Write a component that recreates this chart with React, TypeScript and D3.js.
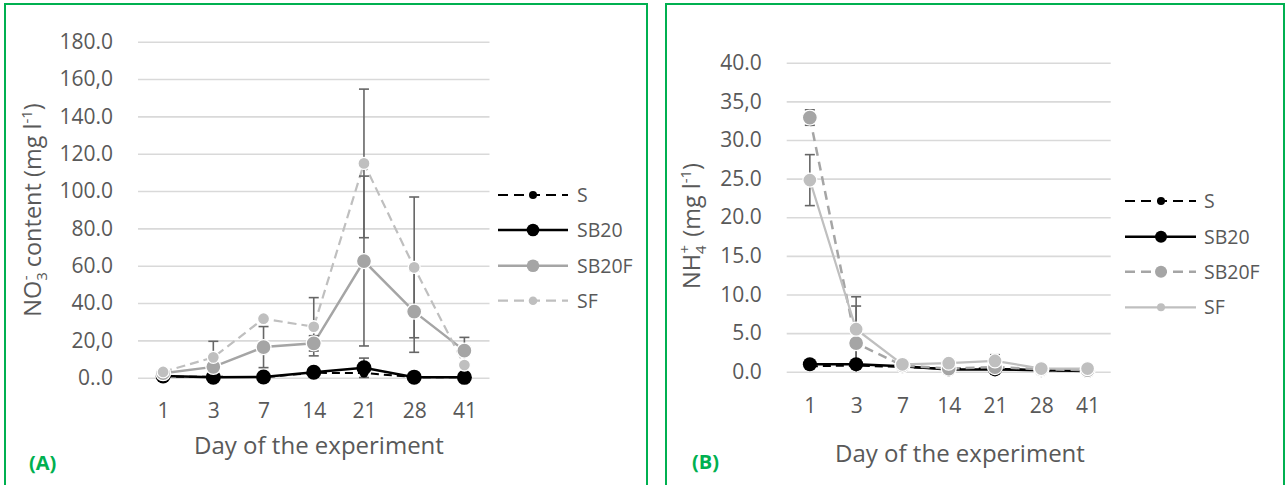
import React, { useEffect, useRef } from "react";
import * as d3 from "d3";

// categories
const days = ["1", "3", "7", "14", "21", "28", "41"];
const seriesNames = ["S", "SB20", "SB20F", "SF"];

// (A) NO3- content, mg l-1
const no3S = [0.6, 0.5, 0.3, 2.6, 2.5, 0.3, 0.3];
const no3SB20 = [0.9, 0.3, 0.4, 2.9, 5.3, 0.3, 0.2];
const no3SB20F = [2.4, 5.8, 16.4, 18.4, 62.5, 35.4, 14.5];
const no3SF = [3.1, 10.9, 31.6, 27.3, 114.8, 59.1, 6.8];
const no3ErrSB20 = [0, 0, 0, 0, 5.2, 0, 0];
const no3ErrSB20F = [0, 1, 11, 4.1, 45.5, 21.8, 7.1];
const no3ErrSF = [0, 8.6, 0, 15.6, 39.8, 37.7, 0];
const no3Ticks = [0, 20, 40, 60, 80, 100, 120, 140, 160, 180];
const no3TickLabels = ["0..0", "20,0", "40.0", "60.0", "80.0", "100.0", "120.0", "140.0", "160,0", "180.0"];

// (B) NH4+, mg l-1
const nh4S = [0.7, 0.8, 0.6, 0.4, 0.4, 0.2, 0.1];
const nh4SB20 = [0.96, 0.96, 0.7, 0.3, 0.3, 0.2, 0.1];
const nh4SB20F = [32.9, 3.7, 0.8, 0.4, 0.6, 0.3, 0.2];
const nh4SF = [24.8, 5.5, 0.96, 1.1, 1.4, 0.4, 0.4];
const nh4ErrSB20F = [1.0, 4.8, 0, 0, 0, 0, 0];
const nh4ErrSF = [3.3, 4.2, 0, 0, 0.8, 0, 0];
const nh4Ticks = [0, 5, 10, 15, 20, 25, 30, 35, 40];
const nh4TickLabels = ["0.0", "5.0", "10.0", "15.0", "20.0", "25.0", "30.0", "35,0", "40.0"];

const FONT = "'Open Sans', sans-serif";
const TEXT = "#595959";
const GREEN = "#00B050";

function drawPanel(svg, cfg) {
    const g = svg.append("g");

    // frame
    g.append("rect")
        .attr("x", cfg.frame[0])
        .attr("y", 4)
        .attr("width", cfg.frame[1] - cfg.frame[0])
        .attr("height", 520)
        .attr("fill", "none")
        .attr("stroke", GREEN)
        .attr("stroke-width", 2);

    const xScale = d3.scalePoint().domain(days).range([cfg.left, cfg.right]).padding(0.5);
    const yScale = d3.scaleLinear().domain([0, cfg.max]).range([cfg.bottom, cfg.top]);

    // y axis + gridlines
    const yAxis = g.append("g")
        .attr("transform", `translate(${cfg.left},0)`)
        .call(d3.axisLeft(yScale)
            .tickValues(cfg.ticks)
            .tickFormat((d, i) => cfg.tickLabels[i])
            .tickSize(-(cfg.right - cfg.left))
            .tickPadding(cfg.yPad));
    yAxis.select(".domain").remove();
    yAxis.selectAll(".tick line").attr("stroke", "#D9D9D9").attr("stroke-width", 1.6);
    yAxis.selectAll(".tick text")
        .attr("fill", TEXT)
        .attr("font-family", FONT)
        .attr("font-size", 21);

    // x axis
    const xAxis = g.append("g")
        .attr("transform", `translate(0,${cfg.bottom})`)
        .call(d3.axisBottom(xScale).tickSize(0).tickPadding(cfg.xPad));
    xAxis.select(".domain").remove();
    xAxis.selectAll(".tick text")
        .attr("fill", TEXT)
        .attr("font-family", FONT)
        .attr("font-size", 21);

    // axis titles
    g.append("text")
        .attr("x", cfg.xTitle[0])
        .attr("y", cfg.xTitle[1])
        .attr("text-anchor", "middle")
        .attr("font-family", FONT)
        .attr("font-size", 24)
        .attr("fill", TEXT)
        .text("Day of the experiment");

    const yt = g.append("text")
        .attr("transform", `translate(${cfg.yTitle[0]},${cfg.yTitle[1]}) rotate(-90)`)
        .attr("text-anchor", "middle")
        .attr("font-family", FONT)
        .attr("font-size", 23.5)
        .attr("fill", TEXT);
    yt.append("tspan").text(cfg.ion[0]);
    yt.append("tspan").attr("font-size", 15).attr("dy", 6).text(cfg.ion[1]);
    yt.append("tspan").attr("font-size", 15).attr("dx", -8).attr("dy", -16).text(cfg.ion[2]);
    yt.append("tspan").attr("dx", 2).attr("dy", 10).text(cfg.ion[3]);
    yt.append("tspan").attr("font-size", 15).attr("dy", -9).text("-1");
    yt.append("tspan").attr("dy", 9).text(")");

    // panel label
    g.append("text")
        .attr("x", cfg.label[0])
        .attr("y", cfg.label[1])
        .attr("font-family", FONT)
        .attr("font-weight", "bold")
        .attr("font-size", 20)
        .attr("fill", GREEN)
        .text(cfg.labelText);

    const line = d3.line()
        .x((d, i) => xScale(days[i]))
        .y((d) => yScale(d));

    // lines
    cfg.series.forEach((s) => {
        g.append("path")
            .attr("d", line(s.values))
            .attr("fill", "none")
            .attr("stroke", s.color)
            .attr("stroke-width", s.width)
            .attr("stroke-dasharray", s.dash || null);
    });

    // error bars
    cfg.series.forEach((s) => {
        if (!s.err) return;
        s.values.forEach((v, i) => {
            const e = s.err[i];
            if (!e) return;
            const x = xScale(days[i]);
            const lo = Math.max(v - e, 0);
            g.append("line")
                .attr("x1", x).attr("x2", x)
                .attr("y1", yScale(v + e)).attr("y2", yScale(lo))
                .attr("stroke", "#666666").attr("stroke-width", 1.6);
            const caps = v - e > 0 ? [v + e, v - e] : [v + e];
            caps.forEach((c) => {
                g.append("line")
                    .attr("x1", x - 5).attr("x2", x + 5)
                    .attr("y1", yScale(c)).attr("y2", yScale(c))
                    .attr("stroke", "#666666").attr("stroke-width", 1.6);
            });
        });
    });

    // markers
    cfg.series.forEach((s) => {
        g.append("g")
            .selectAll("circle")
            .data(s.values)
            .join("circle")
            .attr("cx", (d, i) => xScale(days[i]))
            .attr("cy", (d) => yScale(d))
            .attr("r", s.r)
            .attr("fill", s.color)
            .attr("stroke", s.outline ? "#ffffff" : "none")
            .attr("stroke-width", 1.3);
    });

    // legend
    cfg.series.forEach((s, i) => {
        const y = cfg.legendRows[i];
        const lg = g.append("g");
        lg.append("line")
            .attr("x1", cfg.legendX[0]).attr("x2", cfg.legendX[1])
            .attr("y1", y).attr("y2", y)
            .attr("stroke", s.color)
            .attr("stroke-width", s.width)
            .attr("stroke-dasharray", s.dash ? "10,6" : null);
        lg.append("circle")
            .attr("cx", cfg.legendX[2]).attr("cy", y)
            .attr("r", s.legendR)
            .attr("fill", s.color);
        lg.append("text")
            .attr("x", cfg.legendX[3]).attr("y", y)
            .attr("dy", "0.35em")
            .attr("font-family", FONT)
            .attr("font-size", 19.5)
            .attr("fill", TEXT)
            .text(seriesNames[i]);
    });
}

export default function App() {
    const ref = useRef(null);

    useEffect(() => {
        document.body.style.margin = "0";
        document.body.style.overflow = "hidden";
        const svg = d3.select(ref.current);
        svg.selectAll("*").remove();

        drawPanel(svg, {
            frame: [5, 647],
            left: 138, right: 489.5, top: 41.7, bottom: 377.7, max: 180,
            ticks: no3Ticks, tickLabels: no3TickLabels,
            yPad: 25, xPad: 25,
            xTitle: [319, 454], yTitle: [41, 210],
            ion: ["NO", "3", "-", " content (mg l"],
            label: [29, 470], labelText: "(A)",
            legendRows: [195, 230, 265.7, 300.7],
            legendX: [498, 568, 533, 577],
            series: [
                { values: no3S, color: "#000000", width: 2, dash: "8,5", r: 4.5, legendR: 4 },
                { values: no3SB20, err: no3ErrSB20, color: "#000000", width: 2.5, r: 7.5, legendR: 6.3 },
                { values: no3SB20F, err: no3ErrSB20F, color: "#A5A5A5", width: 2.5, r: 7.5, legendR: 6.3, outline: true },
                { values: no3SF, err: no3ErrSF, color: "#BFBFBF", width: 2.2, dash: "9,5", r: 6, legendR: 4.3, outline: true },
            ],
        });

        drawPanel(svg, {
            frame: [666, 1284],
            left: 786.7, right: 1110.7, top: 62.7, bottom: 371.7, max: 40,
            ticks: nh4Ticks, tickLabels: nh4TickLabels,
            yPad: 25, xPad: 26,
            xTitle: [960, 462], yTitle: [700, 226],
            ion: ["NH", "4", "+", " (mg l"],
            label: [692, 469], labelText: "(B)",
            legendRows: [201, 236.7, 271.7, 307.3],
            legendX: [1125, 1196, 1161, 1204],
            series: [
                { values: nh4S, color: "#000000", width: 2, dash: "8,5", r: 4.5, legendR: 4 },
                { values: nh4SB20, color: "#000000", width: 2.5, r: 7, legendR: 6 },
                { values: nh4SB20F, err: nh4ErrSB20F, color: "#A5A5A5", width: 2.5, dash: "9,6", r: 7.5, legendR: 6, outline: true },
                { values: nh4SF, err: nh4ErrSF, color: "#BFBFBF", width: 2.2, r: 7, legendR: 4, outline: true },
            ],
        });
    }, []);

    return (
        <svg ref={ref} width={1287} height={485}
            style={{ position: "absolute", left: 0, top: 0, background: "#ffffff" }} />
    );
}
